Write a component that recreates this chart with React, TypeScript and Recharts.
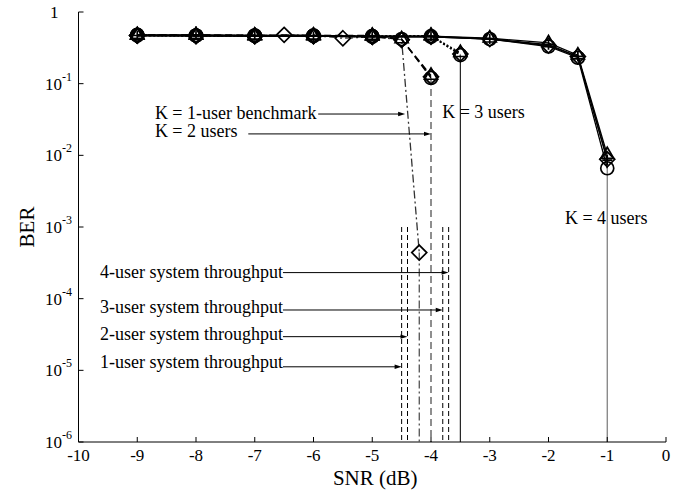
import React from 'react';
import { ComposedChart, Line, XAxis, YAxis, ReferenceLine, ReferenceDot, Label } from 'recharts';

const snrTicks = [-10, -9, -8, -7, -6, -5, -4, -3, -2, -1, 0];
const berTicks = [1e-6, 1e-5, 1e-4, 1e-3, 1e-2, 1e-1, 1];

// K = 1-user benchmark (dash-dot, diamonds)
const snrK1 = [-9, -8, -7, -6.5, -6, -5.5, -5, -4.5, -4.2];
const berK1 = [0.47, 0.47, 0.46, 0.48, 0.47, 0.43, 0.45, 0.41, 0.00044];

// K = 2 users (dashed)
const snrK2 = [-9, -8, -7, -6, -5, -4.5, -4];
const berK2a = [0.47, 0.47, 0.47, 0.46, 0.46, 0.41, 0.125];
const berK2b = [0.48, 0.47, 0.47, 0.47, 0.46, 0.42, 0.12];
const berK2c = [0.48, 0.48, 0.47, 0.47, 0.47, 0.42, 0.13];

// K = 3 users (dotted)
const snrK3 = [-9, -8, -7, -6, -5, -4, -3.5];
const berK3a = [0.48, 0.47, 0.47, 0.47, 0.46, 0.46, 0.25];
const berK3b = [0.47, 0.47, 0.46, 0.46, 0.46, 0.47, 0.27];
const berK3c = [0.47, 0.46, 0.46, 0.46, 0.45, 0.46, 0.26];

// K = 4 users (solid)
const snrK4 = [-9, -8, -7, -6, -5, -4, -3, -2, -1.5, -1];
const berK4a = [0.47, 0.47, 0.46, 0.46, 0.45, 0.45, 0.42, 0.33, 0.23, 0.0066];
const berK4b = [0.48, 0.48, 0.47, 0.47, 0.46, 0.46, 0.43, 0.37, 0.25, 0.0102];
const berK4c = [0.47, 0.47, 0.47, 0.46, 0.46, 0.46, 0.42, 0.35, 0.24, 0.0086];
const berK4d = [0.47, 0.46, 0.46, 0.46, 0.45, 0.45, 0.42, 0.34, 0.24, 0.0088];

// where each K curve falls off the bottom of the plot
const dropSnr = [-4.2, -4, -3.5, -1];
const dropBer = [0.00044, 0.12, 0.25, 0.0102];

// system throughput markers
const thrSnr = [-4.5, -4.4, -3.8, -3.7];
const thrTopBer = 1e-3;
const thrLabels = [
  '1-user system throughput',
  '2-user system throughput',
  '3-user system throughput',
  '4-user system throughput',
];
const thrLabelSnr = -6.52;
const thrLabelBer = [1.32e-5, 3.21e-5, 7.73e-5, 2.38e-4];
const thrArrowBer = [1.12e-5, 2.95e-5, 6.95e-5, 2.31e-4];

// K curve annotations
const kLabels = ['K = 1-user benchmark', 'K = 2 users', 'K = 3 users', 'K = 4 users'];
const kLabelSnr = [-8.7, -8.7, -3.81, -1.72];
const kLabelBer = [0.0385, 0.0218, 0.0402, 0.00134];
const kArrowFrom = [-5.92, -7.11];
const kArrowTo = [-4.44, -4.0];
const kArrowBer = [0.0377, 0.0199];

const FONT = '"Liberation Serif", "Times New Roman", serif';
const TICK_LEN = 5;

const toPoints = (snr: number[], ber: number[]) => snr.map((s, i) => ({ snr: s, ber: ber[i] }));

type MarkerKind = 'circle' | 'triangle' | 'diamond' | 'plus';

const makeDot = (kind: MarkerKind) => (props: any) => {
  const { cx, cy, index } = props;
  if (cx == null || cy == null) return <g key={`d-${index}`} />;
  const common = { fill: 'none', stroke: '#000', strokeWidth: 1.7 };
  if (kind === 'circle') return <circle key={`d-${index}`} cx={cx} cy={cy} r={6.5} {...common} />;
  if (kind === 'diamond') {
    const s = 7.5;
    return <path key={`d-${index}`} d={`M${cx},${cy - s}L${cx + s},${cy}L${cx},${cy + s}L${cx - s},${cy}Z`} {...common} />;
  }
  if (kind === 'triangle') {
    const s = 7.5;
    return (
      <path
        key={`d-${index}`}
        d={`M${cx},${cy - s}L${cx + s * 0.87},${cy + s * 0.5}L${cx - s * 0.87},${cy + s * 0.5}Z`}
        {...common}
      />
    );
  }
  return (
    <path key={`d-${index}`} d={`M${cx - 5},${cy}L${cx + 5},${cy}M${cx},${cy - 5}L${cx},${cy + 5}`} {...common} />
  );
};

// left axis: x is the axis line, ticks point inward
const YTick = (props: any) => {
  const { x, y, payload } = props;
  const e = Math.round(Math.log10(payload.value));
  return (
    <g>
      <line x1={x} y1={y} x2={x + TICK_LEN} y2={y} stroke="#000" strokeWidth={1} />
      {e === 0 ? (
        <text x={x - 20} y={y} textAnchor="end" dominantBaseline="central" fontSize={17} fill="#000" fontFamily={FONT}>
          1
        </text>
      ) : (
        <text x={x - 6.5} y={y} textAnchor="end" dominantBaseline="central" fontSize={17} fill="#000" fontFamily={FONT}>
          <tspan>10</tspan>
          <tspan dy={-7} fontSize={12}>
            {String(e)}
          </tspan>
        </text>
      )}
    </g>
  );
};

// bottom axis: y is the axis line
const XTick = (props: any) => {
  const { x, y, payload } = props;
  return (
    <g>
      <line x1={x} y1={y} x2={x} y2={y - TICK_LEN} stroke="#000" strokeWidth={1} />
      <text x={x} y={y + 13} textAnchor="middle" dominantBaseline="central" fontSize={17} fill="#000" fontFamily={FONT}>
        {String(payload.value)}
      </text>
    </g>
  );
};

const TopTick = (props: any) => (
  <line x1={props.x} y1={props.y} x2={props.x} y2={props.y + TICK_LEN} stroke="#000" strokeWidth={1} />
);

const RightTick = (props: any) => (
  <line x1={props.x} y1={props.y} x2={props.x - TICK_LEN} y2={props.y} stroke="#000" strokeWidth={1} />
);

const YLabelContent = (props: any) => {
  const vb = props.viewBox || { x: 0, y: 12, width: 78, height: 430 };
  const cx = vb.x + 27;
  const cy = vb.y + vb.height / 2;
  return (
    <text
      x={cx}
      y={cy}
      transform={`rotate(-90 ${cx} ${cy})`}
      textAnchor="middle"
      dominantBaseline="central"
      fontSize={21}
      fill="#000"
      fontFamily={FONT}
    >
      BER
    </text>
  );
};

const XLabelContent = (props: any) => {
  const vb = props.viewBox || { x: 78, y: 442, width: 588, height: 49 };
  return (
    <text
      x={vb.x + vb.width / 2 + 3}
      y={vb.y + 36}
      textAnchor="middle"
      dominantBaseline="central"
      fontSize={21}
      fill="#000"
      fontFamily={FONT}
    >
      SNR (dB)
    </text>
  );
};

const ArrowShape = (p: any) => {
  const { x1, y1, x2, y2 } = p;
  return (
    <g>
      <line x1={x1} y1={y1} x2={x2 - 4} y2={y2} stroke="#000" strokeWidth={1} />
      <path d={`M${x2},${y2}L${x2 - 7},${y2 - 2.2}L${x2 - 7},${y2 + 2.2}Z`} fill="#000" />
    </g>
  );
};

const textShape = (label: string, anchor: 'start' | 'end') => (p: any) => (
  <text
    x={p.cx}
    y={p.cy}
    textAnchor={anchor}
    dominantBaseline="central"
    fontSize={18}
    fill="#000"
    fontFamily={FONT}
  >
    {label}
  </text>
);

const lineProps = { isAnimationActive: false, legendType: 'none' as const, dataKey: 'ber', stroke: '#000', strokeWidth: 1.3 };

const dropStyles = [
  { stroke: '#444', strokeDasharray: '8 3 2 3' },
  { stroke: '#444', strokeDasharray: '7 4' },
  { stroke: '#222', strokeDasharray: undefined },
  { stroke: '#777', strokeDasharray: undefined },
];

export default function App() {
  return (
    <div style={{ position: 'absolute', left: 0, top: 0, fontFamily: FONT, background: '#fff' }}>
      <ComposedChart width={686} height={491} margin={{ top: 12, right: 20, bottom: 0, left: 0 }}>
        <XAxis
          dataKey="snr"
          type="number"
          domain={[-10, 0]}
          ticks={snrTicks}
          interval={0}
          allowDataOverflow
          height={49}
          axisLine={{ stroke: '#000' }}
          tickLine={false}
          tickSize={0}
          tickMargin={0}
          tick={<XTick />}
          label={<Label content={XLabelContent} />}
        />
        <XAxis
          xAxisId="top"
          orientation="top"
          type="number"
          domain={[-10, 0]}
          ticks={snrTicks}
          interval={0}
          mirror
          height={0}
          tickSize={0}
          tickMargin={0}
          tickLine={false}
          tick={<TopTick />}
          axisLine={{ stroke: '#000' }}
        />
        <YAxis
          type="number"
          scale="log"
          domain={[1e-6, 1]}
          ticks={berTicks}
          interval={0}
          allowDataOverflow
          width={78.5}
          axisLine={{ stroke: '#000' }}
          tickLine={false}
          tickSize={0}
          tickMargin={0}
          tick={<YTick />}
          label={<Label content={YLabelContent} />}
        />
        <YAxis
          yAxisId="right"
          orientation="right"
          type="number"
          scale="log"
          domain={[1e-6, 1]}
          ticks={berTicks}
          interval={0}
          mirror
          width={0}
          tickSize={0}
          tickMargin={0}
          tickLine={false}
          tick={<RightTick />}
          axisLine={{ stroke: '#000' }}
        />

        {thrSnr.map((s, i) => (
          <ReferenceLine
            key={`thr-${i}`}
            segment={[
              { x: s, y: thrTopBer },
              { x: s, y: 1e-6 },
            ]}
            stroke="#000"
            strokeWidth={1}
            strokeDasharray="5 3"
          />
        ))}
        {dropSnr.map((s, i) => (
          <ReferenceLine
            key={`drop-${i}`}
            segment={[
              { x: s, y: dropBer[i] },
              { x: s, y: 1e-6 },
            ]}
            stroke={dropStyles[i].stroke}
            strokeWidth={1.2}
            strokeDasharray={dropStyles[i].strokeDasharray}
          />
        ))}

        <Line {...lineProps} data={toPoints(snrK1, berK1)} strokeDasharray="8 3 2 3" stroke="#333" dot={makeDot('diamond')} />
        <Line {...lineProps} data={toPoints(snrK2, berK2a)} strokeDasharray="7 4" dot={makeDot('diamond')} />
        <Line {...lineProps} data={toPoints(snrK2, berK2b)} strokeDasharray="7 4" dot={makeDot('circle')} />
        <Line {...lineProps} data={toPoints(snrK2, berK2c)} strokeDasharray="7 4" dot={makeDot('triangle')} />
        <Line {...lineProps} data={toPoints(snrK3, berK3a)} strokeDasharray="2 2" dot={makeDot('circle')} />
        <Line {...lineProps} data={toPoints(snrK3, berK3b)} strokeDasharray="2 2" dot={makeDot('triangle')} />
        <Line {...lineProps} data={toPoints(snrK3, berK3c)} strokeDasharray="2 2" dot={makeDot('diamond')} />
        <Line {...lineProps} data={toPoints(snrK4, berK4a)} dot={makeDot('circle')} />
        <Line {...lineProps} data={toPoints(snrK4, berK4b)} dot={makeDot('triangle')} />
        <Line {...lineProps} data={toPoints(snrK4, berK4c)} dot={makeDot('plus')} />
        <Line {...lineProps} data={toPoints(snrK4, berK4d)} dot={makeDot('diamond')} />

        {kArrowFrom.map((s, i) => (
          <ReferenceLine
            key={`karrow-${i}`}
            segment={[
              { x: s, y: kArrowBer[i] },
              { x: kArrowTo[i], y: kArrowBer[i] },
            ]}
            shape={ArrowShape}
          />
        ))}
        {thrSnr.map((s, i) => (
          <ReferenceLine
            key={`tarrow-${i}`}
            segment={[
              { x: thrLabelSnr, y: thrArrowBer[i] },
              { x: s, y: thrArrowBer[i] },
            ]}
            shape={ArrowShape}
          />
        ))}
        {kLabels.map((t, i) => (
          <ReferenceDot key={`kl-${i}`} x={kLabelSnr[i]} y={kLabelBer[i]} r={0} shape={textShape(t, 'start')} />
        ))}
        {thrLabels.map((t, i) => (
          <ReferenceDot key={`tl-${i}`} x={thrLabelSnr} y={thrLabelBer[i]} r={0} shape={textShape(t, 'end')} />
        ))}
      </ComposedChart>
    </div>
  );
}
